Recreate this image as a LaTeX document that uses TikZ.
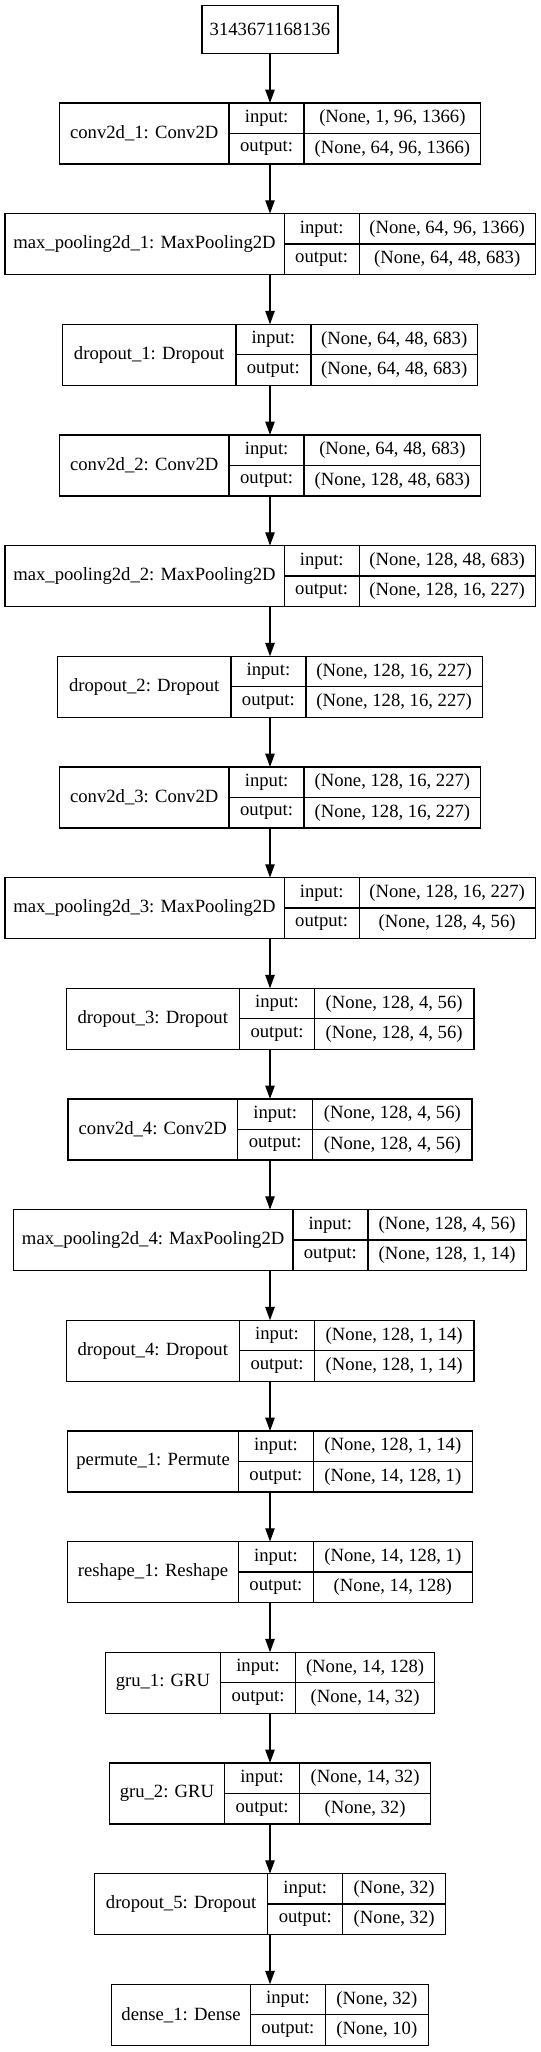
\documentclass[tikz,border=0pt]{standalone}
\usepackage{fontspec}
\setmainfont{Liberation Serif}
\usepackage{tikz}
\usetikzlibrary{arrows.meta}

\begin{document}
\begin{tikzpicture}
            [
            x=1pt, y=-1pt,
            every node/.style={font={\fontsize{14pt}{16pt}\selectfont}},
            layer/.style={rectangle, inner sep=0pt, outer sep=0pt,
                minimum height=45.75pt},
            cell/.style={draw, rectangle, line width=1pt, inner sep=0pt,
                outer sep=0pt, anchor=north west},
            namecell/.style={cell, minimum height=45.75pt},
            iocell/.style={cell, minimum height=22.875pt, minimum width=56.25pt},
            valcell/.style={cell, minimum height=22.875pt},
            flow/.style={line width=1pt, -{Triangle[length=10pt,width=7pt]}},
            ]
            \useasboundingbox (0,0) rectangle (405,1539);
            % Input
            \node[draw, line width=1pt, minimum width=102pt, minimum height=36pt,
                inner sep=0pt] (input) at (202.5,22) {3143671168136};

            % conv2d_1
            \node[layer, minimum width=315.95pt] (conv1) at (202.5,100.1) {};
            \node[namecell, minimum width=127.3pt] (conv1n) at (conv1.north west) {conv2d\_1: Conv2D};
            \node[iocell] (conv1i) at (conv1n.north east) {input:};
            \node[iocell] (conv1o) at (conv1i.south west) {output:};
            \node[valcell, minimum width=132.4pt] (conv1iv) at (conv1i.north east) {(None, 1, 96, 1366)};
            \node[valcell, minimum width=132.4pt] (conv1ov) at (conv1iv.south west) {(None, 64, 96, 1366)};

            % max_pooling2d_1
            \node[layer, minimum width=397.75pt] (pool1) at (202.5,183.1) {};
            \node[namecell, minimum width=209.5pt] (pool1n) at (pool1.north west) {max\_pooling2d\_1: MaxPooling2D};
            \node[iocell] (pool1i) at (pool1n.north east) {input:};
            \node[iocell] (pool1o) at (pool1i.south west) {output:};
            \node[valcell, minimum width=132pt] (pool1iv) at (pool1i.north east) {(None, 64, 96, 1366)};
            \node[valcell, minimum width=132pt] (pool1ov) at (pool1iv.south west) {(None, 64, 48, 683)};

            % dropout_1
            \node[layer, minimum width=311.25pt] (drop1) at (202.5,266.1) {};
            \node[namecell, minimum width=130pt] (drop1n) at (drop1.north west) {dropout\_1: Dropout};
            \node[iocell] (drop1i) at (drop1n.north east) {input:};
            \node[iocell] (drop1o) at (drop1i.south west) {output:};
            \node[valcell, minimum width=125pt] (drop1iv) at (drop1i.north east) {(None, 64, 48, 683)};
            \node[valcell, minimum width=125pt] (drop1ov) at (drop1iv.south west) {(None, 64, 48, 683)};

            % conv2d_2
            \node[layer, minimum width=315.95pt] (conv2) at (202.5,349.1) {};
            \node[namecell, minimum width=127.3pt] (conv2n) at (conv2.north west) {conv2d\_2: Conv2D};
            \node[iocell] (conv2i) at (conv2n.north east) {input:};
            \node[iocell] (conv2o) at (conv2i.south west) {output:};
            \node[valcell, minimum width=132.4pt] (conv2iv) at (conv2i.north east) {(None, 64, 48, 683)};
            \node[valcell, minimum width=132.4pt] (conv2ov) at (conv2iv.south west) {(None, 128, 48, 683)};

            % max_pooling2d_2
            \node[layer, minimum width=397.75pt] (pool2) at (202.5,432.1) {};
            \node[namecell, minimum width=209.5pt] (pool2n) at (pool2.north west) {max\_pooling2d\_2: MaxPooling2D};
            \node[iocell] (pool2i) at (pool2n.north east) {input:};
            \node[iocell] (pool2o) at (pool2i.south west) {output:};
            \node[valcell, minimum width=132pt] (pool2iv) at (pool2i.north east) {(None, 128, 48, 683)};
            \node[valcell, minimum width=132pt] (pool2ov) at (pool2iv.south west) {(None, 128, 16, 227)};

            % dropout_2
            \node[layer, minimum width=318.65pt] (drop2) at (202.5,515.1) {};
            \node[namecell, minimum width=130pt] (drop2n) at (drop2.north west) {dropout\_2: Dropout};
            \node[iocell] (drop2i) at (drop2n.north east) {input:};
            \node[iocell] (drop2o) at (drop2i.south west) {output:};
            \node[valcell, minimum width=132.4pt] (drop2iv) at (drop2i.north east) {(None, 128, 16, 227)};
            \node[valcell, minimum width=132.4pt] (drop2ov) at (drop2iv.south west) {(None, 128, 16, 227)};

            % conv2d_3
            \node[layer, minimum width=315.95pt] (conv3) at (202.5,598.1) {};
            \node[namecell, minimum width=127.3pt] (conv3n) at (conv3.north west) {conv2d\_3: Conv2D};
            \node[iocell] (conv3i) at (conv3n.north east) {input:};
            \node[iocell] (conv3o) at (conv3i.south west) {output:};
            \node[valcell, minimum width=132.4pt] (conv3iv) at (conv3i.north east) {(None, 128, 16, 227)};
            \node[valcell, minimum width=132.4pt] (conv3ov) at (conv3iv.south west) {(None, 128, 16, 227)};

            % max_pooling2d_3
            \node[layer, minimum width=397.75pt] (pool3) at (202.5,681.1) {};
            \node[namecell, minimum width=209.5pt] (pool3n) at (pool3.north west) {max\_pooling2d\_3: MaxPooling2D};
            \node[iocell] (pool3i) at (pool3n.north east) {input:};
            \node[iocell] (pool3o) at (pool3i.south west) {output:};
            \node[valcell, minimum width=132pt] (pool3iv) at (pool3i.north east) {(None, 128, 16, 227)};
            \node[valcell, minimum width=132pt] (pool3ov) at (pool3iv.south west) {(None, 128, 4, 56)};

            % dropout_3
            \node[layer, minimum width=305.75pt] (drop3) at (202.5,764.1) {};
            \node[namecell, minimum width=130pt] (drop3n) at (drop3.north west) {dropout\_3: Dropout};
            \node[iocell] (drop3i) at (drop3n.north east) {input:};
            \node[iocell] (drop3o) at (drop3i.south west) {output:};
            \node[valcell, minimum width=119.5pt] (drop3iv) at (drop3i.north east) {(None, 128, 4, 56)};
            \node[valcell, minimum width=119.5pt] (drop3ov) at (drop3iv.south west) {(None, 128, 4, 56)};

            % conv2d_4
            \node[layer, minimum width=303.05pt] (conv4) at (202.5,847.1) {};
            \node[namecell, minimum width=127.3pt] (conv4n) at (conv4.north west) {conv2d\_4: Conv2D};
            \node[iocell] (conv4i) at (conv4n.north east) {input:};
            \node[iocell] (conv4o) at (conv4i.south west) {output:};
            \node[valcell, minimum width=119.5pt] (conv4iv) at (conv4i.north east) {(None, 128, 4, 56)};
            \node[valcell, minimum width=119.5pt] (conv4ov) at (conv4iv.south west) {(None, 128, 4, 56)};

            % max_pooling2d_4
            \node[layer, minimum width=384.75pt] (pool4) at (202.5,930.1) {};
            \node[namecell, minimum width=209.5pt] (pool4n) at (pool4.north west) {max\_pooling2d\_4: MaxPooling2D};
            \node[iocell] (pool4i) at (pool4n.north east) {input:};
            \node[iocell] (pool4o) at (pool4i.south west) {output:};
            \node[valcell, minimum width=119pt] (pool4iv) at (pool4i.north east) {(None, 128, 4, 56)};
            \node[valcell, minimum width=119pt] (pool4ov) at (pool4iv.south west) {(None, 128, 1, 14)};

            % dropout_4
            \node[layer, minimum width=305.75pt] (drop4) at (202.5,1013.1) {};
            \node[namecell, minimum width=130pt] (drop4n) at (drop4.north west) {dropout\_4: Dropout};
            \node[iocell] (drop4i) at (drop4n.north east) {input:};
            \node[iocell] (drop4o) at (drop4i.south west) {output:};
            \node[valcell, minimum width=119.5pt] (drop4iv) at (drop4i.north east) {(None, 128, 1, 14)};
            \node[valcell, minimum width=119.5pt] (drop4ov) at (drop4iv.south west) {(None, 128, 1, 14)};

            % permute_1
            \node[layer, minimum width=303.35pt] (perm1) at (202.5,1096.1) {};
            \node[namecell, minimum width=128pt] (perm1n) at (perm1.north west) {permute\_1: Permute};
            \node[iocell] (perm1i) at (perm1n.north east) {input:};
            \node[iocell] (perm1o) at (perm1i.south west) {output:};
            \node[valcell, minimum width=119.1pt] (perm1iv) at (perm1i.north east) {(None, 128, 1, 14)};
            \node[valcell, minimum width=119.1pt] (perm1ov) at (perm1iv.south west) {(None, 14, 128, 1)};

            % reshape_1
            \node[layer, minimum width=303.35pt] (resh1) at (202.5,1179.1) {};
            \node[namecell, minimum width=128pt] (resh1n) at (resh1.north west) {reshape\_1: Reshape};
            \node[iocell] (resh1i) at (resh1n.north east) {input:};
            \node[iocell] (resh1o) at (resh1i.south west) {output:};
            \node[valcell, minimum width=119.1pt] (resh1iv) at (resh1i.north east) {(None, 14, 128, 1)};
            \node[valcell, minimum width=119.1pt] (resh1ov) at (resh1iv.south west) {(None, 14, 128)};

            % gru_1
            \node[layer, minimum width=246.95pt] (gru1) at (202.5,1262.1) {};
            \node[namecell, minimum width=86.4pt] (gru1n) at (gru1.north west) {gru\_1: GRU};
            \node[iocell] (gru1i) at (gru1n.north east) {input:};
            \node[iocell] (gru1o) at (gru1i.south west) {output:};
            \node[valcell, minimum width=104.3pt] (gru1iv) at (gru1i.north east) {(None, 14, 128)};
            \node[valcell, minimum width=104.3pt] (gru1ov) at (gru1iv.south west) {(None, 14, 32)};

            % gru_2
            \node[layer, minimum width=240.95pt] (gru2) at (202.5,1345.1) {};
            \node[namecell, minimum width=86.4pt] (gru2n) at (gru2.north west) {gru\_2: GRU};
            \node[iocell] (gru2i) at (gru2n.north east) {input:};
            \node[iocell] (gru2o) at (gru2i.south west) {output:};
            \node[valcell, minimum width=98.3pt] (gru2iv) at (gru2i.north east) {(None, 14, 32)};
            \node[valcell, minimum width=98.3pt] (gru2ov) at (gru2iv.south west) {(None, 32)};

            % dropout_5
            \node[layer, minimum width=263.35pt] (drop5) at (202.5,1428.1) {};
            \node[namecell, minimum width=130pt] (drop5n) at (drop5.north west) {dropout\_5: Dropout};
            \node[iocell] (drop5i) at (drop5n.north east) {input:};
            \node[iocell] (drop5o) at (drop5i.south west) {output:};
            \node[valcell, minimum width=77.1pt] (drop5iv) at (drop5i.north east) {(None, 32)};
            \node[valcell, minimum width=77.1pt] (drop5ov) at (drop5iv.south west) {(None, 32)};

            % dense_1
            \node[layer, minimum width=237.35pt] (dense1) at (202.5,1511.1) {};
            \node[namecell, minimum width=104pt] (dense1n) at (dense1.north west) {dense\_1: Dense};
            \node[iocell] (dense1i) at (dense1n.north east) {input:};
            \node[iocell] (dense1o) at (dense1i.south west) {output:};
            \node[valcell, minimum width=77.1pt] (dense1iv) at (dense1i.north east) {(None, 32)};
            \node[valcell, minimum width=77.1pt] (dense1ov) at (dense1iv.south west) {(None, 10)};

            % Arrows
            \draw[flow] (input) -- (conv1);
            \draw[flow] (conv1) -- (pool1);
            \draw[flow] (pool1) -- (drop1);
            \draw[flow] (drop1) -- (conv2);
            \draw[flow] (conv2) -- (pool2);
            \draw[flow] (pool2) -- (drop2);
            \draw[flow] (drop2) -- (conv3);
            \draw[flow] (conv3) -- (pool3);
            \draw[flow] (pool3) -- (drop3);
            \draw[flow] (drop3) -- (conv4);
            \draw[flow] (conv4) -- (pool4);
            \draw[flow] (pool4) -- (drop4);
            \draw[flow] (drop4) -- (perm1);
            \draw[flow] (perm1) -- (resh1);
            \draw[flow] (resh1) -- (gru1);
            \draw[flow] (gru1) -- (gru2);
            \draw[flow] (gru2) -- (drop5);
            \draw[flow] (drop5) -- (dense1);
\end{tikzpicture}
\end{document}
